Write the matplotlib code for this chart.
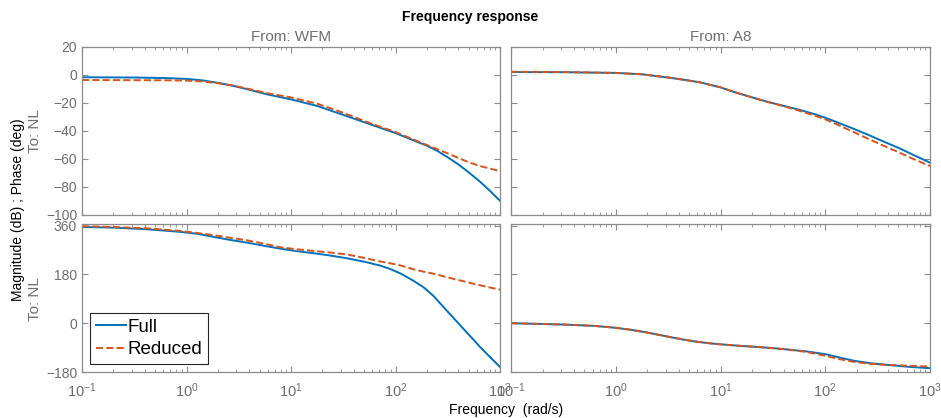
import numpy as np
import matplotlib
matplotlib.use("Agg")
import matplotlib.pyplot as plt
from matplotlib.ticker import LogLocator, NullFormatter

plt.rcParams['font.family'] = ['Liberation Sans', 'DejaVu Sans']
plt.rcParams['mathtext.fontset'] = 'custom'
plt.rcParams['mathtext.rm'] = 'Liberation Sans'

# log10 of frequency (rad/s) where values were read, and the curves
# magnitude (dB), From: WFM
wfm_mag_lf = [-1, -0.5, -0.2, 0, 0.15, 0.3, 0.45, 0.6, 0.77, 1.0, 1.25, 1.5, 1.75, 2.0,
              2.17, 2.3, 2.4, 2.5, 2.6, 2.7, 2.8, 2.9, 3]
wfm_mag_full = [-1.6, -1.8, -2.2, -2.8, -3.8, -5.6, -7.8, -10.5, -13.8, -17.4, -22.1, -28.5,
                -35.0, -41.5, -46.6, -50.5, -54.2, -58.8, -63.8, -69.5, -75.6, -82.5, -89.8]
wfm_mag_red = [-3.6, -3.7, -3.8, -4.0, -4.6, -5.8, -7.6, -10, -13, -16, -20.5, -27, -34.2,
               -40.8, -46.0, -50, -53, -56, -59.2, -62.3, -64.8, -66.8, -68.6]

# magnitude (dB), From: A8
a8_mag_lf = [-1, -0.5, 0, 0.25, 0.5, 0.65, 0.8, 1, 1.12, 1.28, 1.44, 1.6, 1.76, 1.9, 2.0,
             2.08, 2.24, 2.4, 2.55, 2.71, 2.85, 3]
a8_mag_full = [2.1, 2.0, 1.5, 0.5, -1.8, -3.4, -5.2, -8.8, -11.9, -15.5, -19, -22, -25, -28,
               -30.5, -32.8, -37.5, -42.4, -47.3, -52.4, -57.4, -62.6]
a8_mag_red = [2.3, 2.1, 1.5, 0.5, -1.8, -3.4, -5.2, -8.8, -11.9, -15.5, -19, -22.2, -25.7,
              -29, -31.7, -34.2, -39.7, -45.2, -50.3, -55.5, -60.3, -65]

# phase (deg), From: WFM
wfm_ph_lf = [-1, -0.7, -0.38, -0.06, 0.1, 0.26, 0.42, 0.577, 0.75, 0.9, 1.05, 1.21, 1.37,
             1.53, 1.7, 1.85, 1.95, 2.05, 2.17, 2.27, 2.36, 2.49, 2.57, 2.65, 2.73, 2.81,
             2.9, 3]
wfm_ph_full = [355, 352.7, 346.7, 337, 330, 318.5, 307, 297.6, 285, 275, 266, 258.6, 250,
               240, 227, 213, 200, 183, 157, 132, 102, 46.7, 13, -20.7, -54, -88, -123,
               -161.6]
wfm_ph_red = [358, 355, 350, 340.5, 333, 324.8, 315, 306, 293, 280, 273, 267, 261, 254,
              241, 228, 221, 213, 199, 190, 183, 170, 162, 155, 147, 140, 132, 124]

# phase (deg), From: A8
a8_ph_lf = [-1, -0.49, -0.2, 0, 0.14, 0.28, 0.4, 0.53, 0.64, 0.75, 0.87, 1, 1.17, 1.33,
            1.5, 1.64, 1.82, 2, 2.14, 2.28, 2.44, 2.6, 2.8, 3]
a8_ph_full = [0, -5, -10, -17, -24, -33, -42, -52, -60, -67, -73, -78, -83, -87, -92, -97,
              -104, -114, -127, -139, -148, -154, -161, -166]
a8_ph_red = [0, -5, -10, -17, -24, -33, -42, -52, -60, -67, -73, -78, -83, -87, -92, -97,
             -106, -120, -133, -143, -150, -154, -157, -160]

blue = '#0072BD'
orange = '#D95319'
gray = '#6e6e6e'
spine = '#8a8a8a'

fig = plt.figure(figsize=(9.41, 4.18), dpi=100)
W, H = 941, 418

def px_axes(x0, y0, x1, y1):
    return fig.add_axes([x0 / W, 1 - y1 / H, (x1 - x0) / W, (y1 - y0) / H])

ax_tl = px_axes(82, 47, 500, 215)
ax_tr = px_axes(511, 47, 930, 215)
ax_bl = px_axes(82, 224, 500, 372)
ax_br = px_axes(511, 224, 930, 372)

def style(ax):
    ax.set_xscale('log')
    ax.set_xlim(0.1, 1000)
    ax.xaxis.set_major_locator(LogLocator(base=10, numticks=10))
    ax.xaxis.set_minor_locator(LogLocator(base=10, subs=np.arange(2, 10), numticks=20))
    ax.xaxis.set_minor_formatter(NullFormatter())
    ax.tick_params(which='both', direction='in', top=True, right=True, colors=spine,
                   labelcolor=gray, labelsize=10)
    ax.tick_params(which='major', length=4, width=0.8)
    ax.tick_params(which='minor', length=2.5, width=0.6)
    ax.tick_params(axis='x', which='major', pad=7, labelsize=10.5)
    for s in ax.spines.values():
        s.set_color(spine)
        s.set_linewidth(0.9)

lw = 1.4
for ax in (ax_tl, ax_tr, ax_bl, ax_br):
    style(ax)

ax_tl.plot(10 ** np.array(wfm_mag_lf), wfm_mag_full, color=blue, lw=lw)
ax_tl.plot(10 ** np.array(wfm_mag_lf), wfm_mag_red, color=orange, lw=lw, ls='--')
ax_tr.plot(10 ** np.array(a8_mag_lf), a8_mag_full, color=blue, lw=lw)
ax_tr.plot(10 ** np.array(a8_mag_lf), a8_mag_red, color=orange, lw=lw, ls='--')
l1, = ax_bl.plot(10 ** np.array(wfm_ph_lf), wfm_ph_full, color=blue, lw=lw, label='Full')
l2, = ax_bl.plot(10 ** np.array(wfm_ph_lf), wfm_ph_red, color=orange, lw=lw, ls='--',
                 label='Reduced')
ax_br.plot(10 ** np.array(a8_ph_lf), a8_ph_full, color=blue, lw=lw)
ax_br.plot(10 ** np.array(a8_ph_lf), a8_ph_red, color=orange, lw=lw, ls='--')

for ax in (ax_tl, ax_tr):
    ax.set_ylim(-100, 20)
    ax.set_yticks(np.arange(-100, 21, 20))
    ax.tick_params(labelbottom=False)
for ax in (ax_bl, ax_br):
    ax.set_ylim(-180, 366)
    ax.set_yticks([-180, 0, 180, 360])
for ax in (ax_tr, ax_br):
    ax.tick_params(labelleft=False)

ax_tl.set_title('From: WFM', color=gray, fontsize=11, pad=4)
ax_tr.set_title('From: A8', color=gray, fontsize=11, pad=4)

leg = ax_bl.legend(handles=[l1, l2], loc='lower left', bbox_to_anchor=(0.019, 0.054),
                   borderaxespad=0, fontsize=13.5, fancybox=False, framealpha=1,
                   edgecolor='#262626', handlelength=1.6, handletextpad=0.1,
                   borderpad=0.3, labelspacing=0.3)
leg.get_frame().set_linewidth(0.8)

fig.text(470 / W, 1 - 17 / H, 'Frequency response', ha='center', va='center',
         fontsize=10, fontweight='bold')
fig.text(18 / W, 1 - 210 / H, 'Magnitude (dB) ; Phase (deg)', rotation=90,
         ha='center', va='center', fontsize=10)
fig.text(35 / W, 1 - 131 / H, 'To: NL', rotation=90, ha='center', va='center',
         fontsize=11, color=gray)
fig.text(35 / W, 1 - 299 / H, 'To: NL', rotation=90, ha='center', va='center',
         fontsize=11, color=gray)
fig.text(506 / W, 1 - 410 / H, 'Frequency  (rad/s)', ha='center', va='center',
         fontsize=10)

fig.savefig('out.png', dpi=100)
